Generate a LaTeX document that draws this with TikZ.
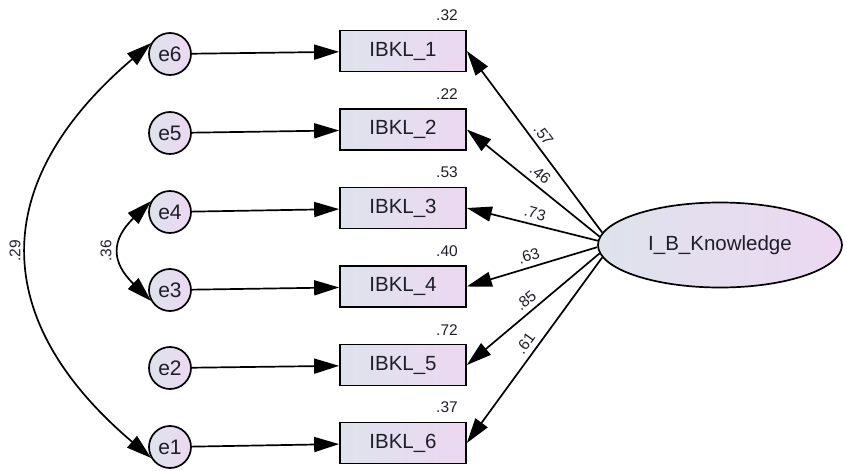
\documentclass[tikz,border=0pt]{standalone}
\usepackage{fontspec}
\setmainfont{Liberation Sans}
\usetikzlibrary{arrows.meta,shapes.geometric}
\definecolor{fillL}{HTML}{DEE3EC}
\definecolor{fillR}{HTML}{ECD8F2}
\definecolor{txt}{HTML}{1E1E28}
\begin{document}
\begin{tikzpicture}[x=1pt,y=-1pt,line width=1.7pt,
  >={Triangle[length=25pt,width=15pt]},
  err/.style={circle,draw,minimum size=42pt,inner sep=0pt,left color=fillL,right color=fillR,
    font=\fontsize{21}{24}\selectfont,text=txt},
  obs/.style={rectangle,draw,minimum width=126pt,minimum height=41pt,inner sep=0pt,
    left color=fillL,right color=fillR,font=\fontsize{20.5}{24}\selectfont,text=txt},
  lat/.style={ellipse,draw,minimum width=244pt,minimum height=85pt,inner sep=0pt,
    left color=fillL,right color=fillR,font=\fontsize{20.5}{24}\selectfont,text=txt},
  lbl/.style={font=\fontsize{15.5}{18}\selectfont,text=txt,inner sep=1pt},
  ld/.style={lbl,sloped,above=4pt,pos=0.5}]
\useasboundingbox (0,0) rectangle (847,471);
% observed variables
\node[obs] (b1) at (403,51) {IBKL\_1};
\node[obs] (b2) at (403,129.5) {IBKL\_2};
\node[obs] (b3) at (403,208) {IBKL\_3};
\node[obs] (b4) at (403,286.5) {IBKL\_4};
\node[obs] (b5) at (403,365) {IBKL\_5};
\node[obs] (b6) at (403,443) {IBKL\_6};
% errors
\node[err] (e6) at (170,54) {e6};
\node[err] (e5) at (170,133) {e5};
\node[err] (e4) at (170,212) {e4};
\node[err] (e3) at (170,290) {e3};
\node[err] (e2) at (170,368) {e2};
\node[err] (e1) at (170,447) {e1};
% latent
\node[lat] (K) at (720,245) {I\_B\_Knowledge};
% squared multiple correlations
\node[lbl] (r1) at ([xshift=44pt,yshift=14pt]b1.north) {.32};
\node[lbl] (r2) at ([xshift=44pt,yshift=14pt]b2.north) {.22};
\node[lbl] (r3) at ([xshift=44pt,yshift=14pt]b3.north) {.53};
\node[lbl] (r4) at ([xshift=44pt,yshift=14pt]b4.north) {.40};
\node[lbl] (r5) at ([xshift=44pt,yshift=14pt]b5.north) {.72};
\node[lbl] (r6) at ([xshift=44pt,yshift=14pt]b6.north) {.37};
% error arrows
\draw[->] (e6) -- (b1);
\draw[->] (e5) -- (b2);
\draw[->] (e4) -- (b3);
\draw[->] (e3) -- (b4);
\draw[->] (e2) -- (b5);
\draw[->] (e1) -- (b6);
% loadings
\draw[->] (K.174) -- node[ld] (l1) {.57} (b1.east);
\draw[->] (K.176) -- node[ld] (l2) {.46} (b2.east);
\draw[->] (K.178.5) -- node[ld] (l3) {.73} (b3.east);
\draw[->] (K.181) -- node[ld] (l4) {.63} (b4.east);
\draw[->] (K.184) -- node[ld] (l5) {.85} (b5.east);
\draw[->] (K.186) -- node[ld] (l6) {.61} (b6.east);
% covariances
\draw[<->] (e6.150) .. controls (-12,182) and (-12,319.5) .. (e1.210);
\draw[<->] (e4.150) .. controls (111,240) and (111,262) .. (e3.210);
\node[lbl,rotate=90] (c1) at (15,251) {.29};
\node[lbl,rotate=90] (c2) at (106,251) {.36};
\end{tikzpicture}
\end{document}
